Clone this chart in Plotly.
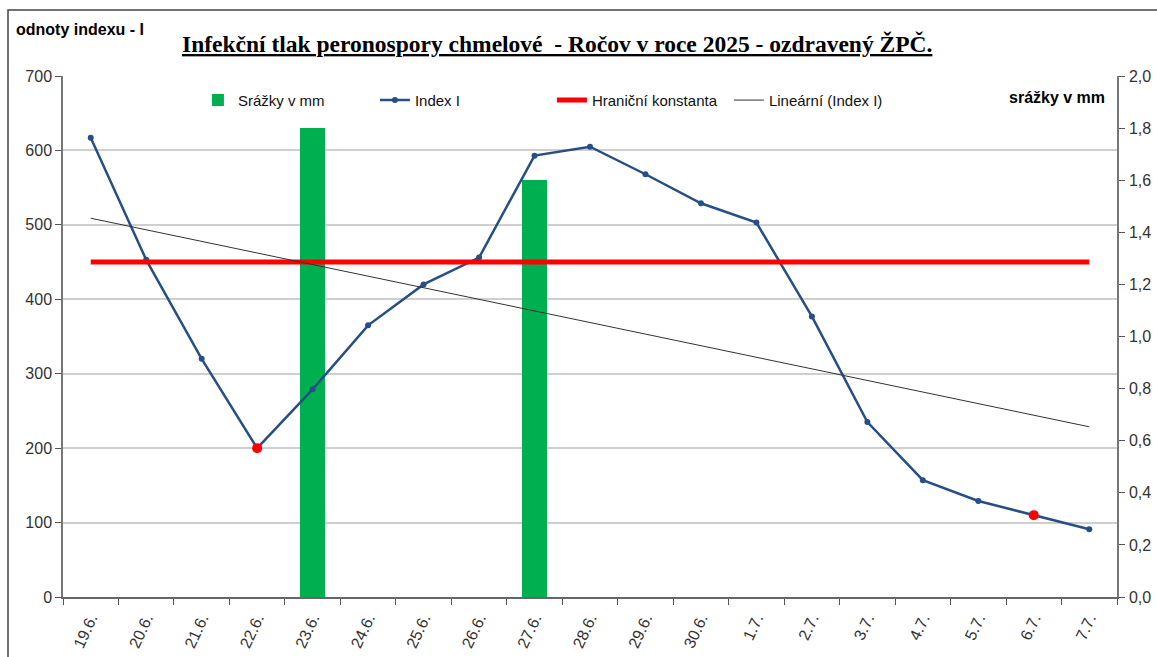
import numpy as np
import plotly.graph_objects as go

# ---- data ----
dates = ["19.6.", "20.6.", "21.6.", "22.6.", "23.6.", "24.6.", "25.6.", "26.6.", "27.6.", "28.6.",
         "29.6.", "30.6.", "1.7.", "2.7.", "3.7.", "4.7.", "5.7.", "6.7.", "7.7."]
index_i = [617, 453, 320, 200, 279, 365, 420, 456, 593, 605,
           568, 529, 503, 377, 235, 157, 129, 110, 91]
rain_dates = ["23.6.", "27.6."]
rain_mm = [1.8, 1.6]
limit_value = 450
highlight_dates = ["22.6.", "6.7."]

title_text = "Infekční tlak peronospory chmelové  - Ročov v roce 2025 - ozdravený ŽPČ."
left_title = "odnoty indexu - I"
right_title = "srážky v mm"

# linear trend (Excel "Lineární" trendline = least squares fit)
xi = np.arange(len(index_i))
slope, intercept = np.polyfit(xi, index_i, 1)
trend = (slope * xi + intercept).tolist()
highlight_vals = [index_i[dates.index(d)] for d in highlight_dates]

fig = go.Figure()

# bars on primary axis (right side, 0-2) so they are drawn beneath the lines
fig.add_trace(go.Bar(x=rain_dates, y=rain_mm, name="Srážky v mm", yaxis="y",
                     marker=dict(color="#00B050", line=dict(width=0)), width=0.45))
fig.add_trace(go.Scatter(x=dates, y=index_i, name="Index I", yaxis="y2", mode="lines+markers",
                         line=dict(color="#264F87", width=2.5),
                         marker=dict(color="#264F87", size=6)))
fig.add_trace(go.Scatter(x=dates, y=[limit_value] * len(dates), name="Hraniční konstanta",
                         yaxis="y2", mode="lines", line=dict(color="#FF0000", width=5)))
fig.add_trace(go.Scatter(x=dates, y=trend, name="Lineární (Index I)", yaxis="y2", mode="lines",
                         line=dict(color="#333333", width=1)))
fig.add_trace(go.Scatter(x=highlight_dates, y=highlight_vals, yaxis="y2", mode="markers",
                         showlegend=False, marker=dict(color="#FF0000", size=10)))

fig.update_layout(
    width=1157, height=657,
    margin=dict(l=63, r=40, t=76, b=60, autoexpand=False),
    paper_bgcolor="white", plot_bgcolor="white",
    separators=",.",
    font=dict(family="Liberation Sans, Arial, sans-serif", size=15, color="#222222"),
    bargap=0,
    xaxis=dict(type="category", categoryorder="array", categoryarray=dates,
               tickson="boundaries", ticks="outside", ticklen=6, tickcolor="#555555",
               showline=True, linecolor="#666666", linewidth=1.5, showgrid=False,
               tickangle=-65, tickfont=dict(size=16, color="#333333"),
               ticklabelstandoff=4, automargin=False,
               range=[-0.5, len(dates) - 0.5]),
    yaxis=dict(side="right", range=[0, 2.0], dtick=0.2, tickformat=".1f",
               showgrid=False, showline=True, linecolor="#777777", linewidth=1.5,
               ticks="outside", ticklen=6, tickcolor="#555555", ticklabelstandoff=1,
               automargin=False,
               tickfont=dict(size=16, color="#333333"), zeroline=False),
    yaxis2=dict(side="left", overlaying="y", range=[0, 700], dtick=100,
                showgrid=True, gridcolor="#CFCFCF", gridwidth=1.5,
                showline=True, linecolor="#777777", linewidth=1.5,
                ticks="outside", ticklen=6, tickcolor="#555555", automargin=False,
                tickfont=dict(size=16, color="#333333"), zeroline=False),
    legend=dict(orientation="h", x=0.128, y=0.985, xanchor="left", yanchor="top",
                bgcolor="rgba(0,0,0,0)", font=dict(size=15, color="#111111"),
                itemwidth=30, entrywidth=132, entrywidthmode="pixels",
                traceorder="normal"),
    showlegend=True,
)

fig.add_annotation(text=f"<b><u>{title_text}</u></b>", xref="paper", yref="paper",
                   x=(557 - 63) / 1054, y=(597 - 44) / 521, xanchor="center", yanchor="middle",
                   showarrow=False, font=dict(family="Liberation Serif, Times New Roman, serif",
                                              size=23.5, color="#000000"))
fig.add_annotation(text=f"<b>{left_title}</b>", xref="paper", yref="paper",
                   x=(14 - 63) / 1054, y=(597 - 30) / 521, xanchor="left", yanchor="middle",
                   showarrow=False, font=dict(size=16, color="#000000"))
fig.add_annotation(text=f"<b>{right_title}</b>", xref="paper", yref="paper",
                   x=(1107 - 63) / 1054, y=(597 - 98) / 521, xanchor="right", yanchor="middle",
                   showarrow=False, font=dict(size=16, color="#000000"))

# outer chart frame (extends beyond right/bottom edge as in reference)
fig.add_shape(type="rect", xref="paper", yref="paper",
              x0=(8 - 63) / 1054, x1=(1170 - 63) / 1054,
              y0=(597 - 670) / 521, y1=(597 - 10) / 521,
              line=dict(color="#444444", width=1.5), fillcolor="rgba(0,0,0,0)", layer="below")

fig.write_html("out.html", config={"displayModeBar": False},
               post_script="document.body.style.margin='0';document.body.style.overflow='hidden';")
